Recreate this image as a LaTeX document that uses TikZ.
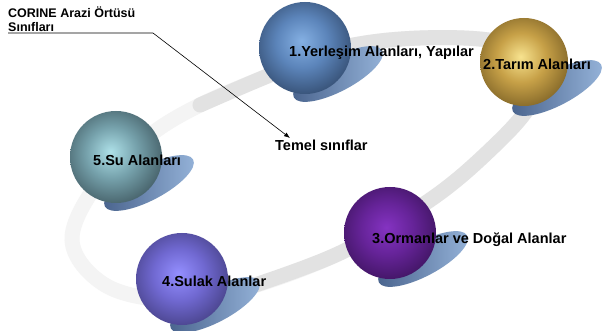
\documentclass[tikz,border=0pt]{standalone}
\usepackage{fontspec}
\setmainfont{Liberation Sans}
\usetikzlibrary{arrows.meta}
\definecolor{ringc}{RGB}{226,226,226}
\definecolor{ringl}{RGB}{244,244,244}
\definecolor{shdark}{RGB}{72,98,140}
\definecolor{shlight}{RGB}{150,180,218}
\pgfdeclareradialshading{sphblue}{\pgfpoint{-2bp}{4bp}}{rgb(0bp)=(0.52,0.69,0.89); rgb(14bp)=(0.36,0.52,0.73); rgb(32bp)=(0.18,0.27,0.40); rgb(46bp)=(0.08,0.12,0.19); rgb(70bp)=(0.06,0.09,0.15)}
\pgfdeclareradialshading{sphgold}{\pgfpoint{-2bp}{3bp}}{rgb(0bp)=(0.97,0.89,0.56); rgb(14bp)=(0.78,0.63,0.28); rgb(32bp)=(0.45,0.35,0.13); rgb(46bp)=(0.20,0.15,0.05); rgb(70bp)=(0.16,0.12,0.04)}
\pgfdeclareradialshading{sphpurple}{\pgfpoint{-2bp}{3bp}}{rgb(0bp)=(0.52,0.20,0.76); rgb(14bp)=(0.40,0.14,0.60); rgb(32bp)=(0.22,0.07,0.34); rgb(46bp)=(0.09,0.03,0.15); rgb(70bp)=(0.07,0.02,0.12)}
\pgfdeclareradialshading{sphviolet}{\pgfpoint{-2bp}{3bp}}{rgb(0bp)=(0.58,0.56,1.00); rgb(14bp)=(0.44,0.41,0.82); rgb(32bp)=(0.25,0.23,0.48); rgb(46bp)=(0.11,0.10,0.23); rgb(70bp)=(0.09,0.08,0.19)}
\pgfdeclareradialshading{sphteal}{\pgfpoint{-3bp}{3bp}}{rgb(0bp)=(0.68,0.88,0.91); rgb(14bp)=(0.46,0.63,0.67); rgb(32bp)=(0.23,0.32,0.35); rgb(46bp)=(0.10,0.15,0.17); rgb(70bp)=(0.08,0.12,0.14)}
\begin{document}
\begin{tikzpicture}[x=1pt,y=-1pt,
  lbl/.style={anchor=base west, inner sep=0pt, font=\bfseries\fontsize{14.5}{16}\selectfont},
  small/.style={anchor=base west, inner sep=0pt, font=\bfseries\fontsize{12.5}{14}\selectfont},
  sphere/.style={circle, minimum size=92pt, inner sep=0pt, shade, shading=#1},
  shadowel/.style={left color=shdark, right color=shlight},
  ringline/.style={line width=15pt, line cap=round}]
\useasboundingbox (0,0) rectangle (606,331);
\fill[white] (0,0) rectangle (606,331);
% ring
\draw[ringl, ringline] plot[smooth cycle, tension=0.6] coordinates {(72,240) (105,285) (170,300) (240,290) (340,253) (430,200) (490,150) (530,105) (540,65) (500,42) (420,38) (340,48) (270,75) (200,105) (150,135) (100,180)};
\draw[ringc, ringline] plot[smooth, tension=0.6] coordinates {(240,290) (340,253) (430,200) (490,150) (530,105) (540,65) (500,42) (420,38) (340,48) (270,75) (200,105)};
% shadows
\foreach \cx/\cy in {305/48, 524/62, 390/233, 182/279, 116/157}
  \shade[shadowel, shift={(\cx+33,\cy+26)}, rotate=28] (0,0) ellipse [x radius=50pt, y radius=17pt];
% spheres
\node[sphere=sphblue] (s1) at (305,48) {};
\node[sphere=sphgold, minimum size=88pt] (s2) at (524,62) {};
\node[sphere=sphpurple] (s3) at (390,233) {};
\node[sphere=sphviolet] (s4) at (182,279) {};
\node[sphere=sphteal] (s5) at (116,157) {};
% labels
\node[lbl] (l1) at (289,57) {1.Yerleşim Alanları, Yapılar};
\node[lbl] (l2) at (483,70) {2.Tarım Alanları};
\node[lbl] (l3) at (372,244) {3.Ormanlar ve Doğal Alanlar};
\node[lbl] (l4) at (162,287) {4.Sulak Alanlar};
\node[lbl] (l5) at (93,166) {5.Su Alanları};
\node[lbl] (temel) at (275,151) {Temel sınıflar};
\node[small] (c1) at (8,18) {CORINE Arazi Örtüsü};
\node[small] (c2) at (8,32) {Sınıfları};
% connector
\coordinate (lstart) at (8,33);
\coordinate (bend) at (153,33);
\coordinate (tip) at (290,138);
\draw[line width=0.6pt, -{Latex[length=6pt,width=4.5pt]}] (lstart) -- (bend) -- (tip);
\end{tikzpicture}
\end{document}
